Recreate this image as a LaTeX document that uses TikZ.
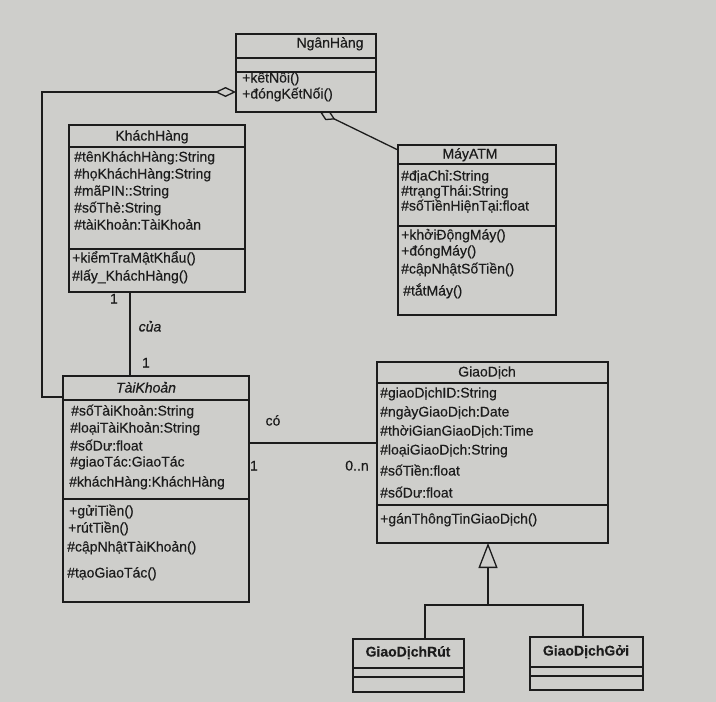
\documentclass[tikz,border=0pt]{standalone}
\usepackage{fontspec}
\setmainfont{Liberation Sans}[FakeBold=0.4]
\usetikzlibrary{arrows.meta,calc}
\definecolor{paper}{RGB}{206,206,203}
\definecolor{ink}{RGB}{28,28,28}
\begin{document}
\begin{tikzpicture}[x=1pt,y=-1pt,
  box/.style={draw=ink, line width=1.3pt, anchor=north west, inner sep=0pt, outer sep=0pt},
  sepline/.style={draw=ink, line width=1.3pt},
  txt/.style={anchor=west, inner sep=0pt, text height=9.5pt, text depth=2.5pt, font=\fontsize{14}{15}\selectfont, text=ink},
  ttl/.style={anchor=center, inner sep=0pt, text height=9.5pt, text depth=2.5pt, font=\fontsize{14}{15}\selectfont, text=ink},
  conn/.style={draw=ink, line width=1.3pt},
  agg/.style={conn, {Diamond[open, length=21pt, width=10pt, line width=1.3pt]}-},
  aggs/.style={conn, {Diamond[open, length=17pt, width=10pt, line width=1.3pt]}-},
  gen/.style={conn, -{Triangle[open, length=25pt, width=19pt, line width=1.3pt]}}]
\fill[paper] (0,0) rectangle (716,702);
\useasboundingbox (0,0) rectangle (716,702);

% ---------- NganHang ----------
\node[box, minimum width=140pt, minimum height=78pt] (nh) at (236,34) {};
\draw[sepline] ($(nh.north west)+(0,24)$) -- ($(nh.north east)+(0,24)$);
\draw[sepline] ($(nh.north west)+(0,38)$) -- ($(nh.north east)+(0,38)$);
\node[ttl] (nhT) at (330,44) {NgânHàng};
\node[txt] (nhM1) at (242,79) {+kếtNối()};
\node[txt] (nhM2) at (242,95) {+đóngKếtNối()};

% ---------- KhachHang ----------
\node[box, minimum width=176pt, minimum height=167pt] (kh) at (69,125) {};
\draw[sepline] ($(kh.north west)+(0,22)$) -- ($(kh.north east)+(0,22)$);
\draw[sepline] ($(kh.north west)+(0,124)$) -- ($(kh.north east)+(0,124)$);
\node[ttl] (khT) at (152,137) {KháchHàng};
\node[txt] (khA1) at (74,158) {\#tênKháchHàng:String};
\node[txt] (khA2) at (74,175) {\#họKháchHàng:String};
\node[txt] (khA3) at (74,192) {\#mãPIN::String};
\node[txt] (khA4) at (74,209) {\#sốThẻ:String};
\node[txt] (khA5) at (74,226) {\#tàiKhoản:TàiKhoản};
\node[txt] (khM1) at (72,259) {+kiểmTraMậtKhẩu()};
\node[txt] (khM2) at (72,277) {\#lấy\_KháchHàng()};

% ---------- MayATM ----------
\node[box, minimum width=158pt, minimum height=170pt] (atm) at (398,145) {};
\draw[sepline] ($(atm.north west)+(0,19)$) -- ($(atm.north east)+(0,19)$);
\draw[sepline] ($(atm.north west)+(0,81)$) -- ($(atm.north east)+(0,81)$);
\node[ttl] (atmT) at (470,155) {MáyATM};
\node[txt] (atmA1) at (401,177) {\#địaChỉ:String};
\node[txt] (atmA2) at (401,192) {\#trạngThái:String};
\node[txt] (atmA3) at (401,207) {\#sốTiềnHiệnTại:float};
\node[txt] (atmM1) at (401,236) {+khởiĐộngMáy()};
\node[txt] (atmM2) at (401,252) {+đóngMáy()};
\node[txt] (atmM3) at (401,270) {\#cậpNhậtSốTiền()};
\node[txt] (atmM4) at (403,292) {\#tắtMáy()};

% ---------- TaiKhoan ----------
\node[box, minimum width=186pt, minimum height=226pt] (tk) at (63,376) {};
\draw[sepline] ($(tk.north west)+(0,24)$) -- ($(tk.north east)+(0,24)$);
\draw[sepline] ($(tk.north west)+(0,123)$) -- ($(tk.north east)+(0,123)$);
\node[ttl, font=\fontsize{14}{15}\selectfont\itshape] (tkT) at (146,389) {TàiKhoản};
\node[txt] (tkA1) at (71,412) {\#sốTàiKhoản:String};
\node[txt] (tkA2) at (70,429) {\#loạiTàiKhoản:String};
\node[txt] (tkA3) at (70,447) {\#sốDư:float};
\node[txt] (tkA4) at (70,463) {\#giaoTác:GiaoTác};
\node[txt] (tkA5) at (69,483) {\#kháchHàng:KháchHàng};
\node[txt] (tkM1) at (69,512) {+gửiTiền()};
\node[txt] (tkM2) at (68,529) {+rútTiền()};
\node[txt] (tkM3) at (67,548) {\#cậpNhậtTàiKhoản()};
\node[txt] (tkM4) at (67,574) {\#tạoGiaoTác()};

% ---------- GiaoDich ----------
\node[box, minimum width=231pt, minimum height=181pt] (gd) at (377,362) {};
\draw[sepline] ($(gd.north west)+(0,21)$) -- ($(gd.north east)+(0,21)$);
\draw[sepline] ($(gd.north west)+(0,143)$) -- ($(gd.north east)+(0,143)$);
\node[ttl] (gdT) at (487,373) {GiaoDịch};
\node[txt] (gdA1) at (380,394) {\#giaoDịchID:String};
\node[txt] (gdA2) at (380,413) {\#ngàyGiaoDịch:Date};
\node[txt] (gdA3) at (380,432) {\#thờiGianGiaoDịch:Time};
\node[txt] (gdA4) at (380,451) {\#loạiGiaoDịch:String};
\node[txt] (gdA5) at (380,472) {\#sốTiền:float};
\node[txt] (gdA6) at (380,494) {\#sốDư:float};
\node[txt] (gdM1) at (380,520) {+gánThôngTinGiaoDịch()};

% ---------- GiaoDichRut / GiaoDichGoi ----------
\node[box, minimum width=111pt, minimum height=53pt] (gr) at (353,639) {};
\draw[sepline] ($(gr.north west)+(0,29)$) -- ($(gr.north east)+(0,29)$);
\draw[sepline] ($(gr.north west)+(0,38)$) -- ($(gr.north east)+(0,38)$);
\node[ttl, font=\fontsize{14}{15}\selectfont\bfseries] (grT) at (408,653) {GiaoDịchRút};
\node[box, minimum width=113pt, minimum height=53pt] (gg) at (530,637) {};
\draw[sepline] ($(gg.north west)+(0,30)$) -- ($(gg.north east)+(0,30)$);
\draw[sepline] ($(gg.north west)+(0,39)$) -- ($(gg.north east)+(0,39)$);
\node[ttl, font=\fontsize{14}{15}\selectfont\bfseries] (ggT) at (586,652) {GiaoDịchGởi};

% ---------- connectors ----------
\coordinate (bendA) at (42,92);
\coordinate (bendB) at (42,397);
\draw[agg] ($(nh.north west)+(0,58)$) -- (bendA) -- (bendB) -- ($(tk.north west)+(0,21)$);
\draw[aggs] ($(nh.south west)+(84,0)$) -- ($(atm.north west)+(0,5)$);
\draw[conn] ($(kh.south west)+(61,0)$) -- ($(tk.north west)+(67,0)$);
\draw[conn] ($(tk.north east)+(0,67)$) -- ($(gd.north west)+(0,81)$);
\coordinate (gj) at (488,605);
\draw[gen] (gj) -- ($(gd.south west)+(111,0)$);
\draw[conn] ($(gr.north west)+(72,0)$) |- (gj) -| ($(gg.north west)+(53,0)$);

% ---------- labels ----------
\node[ttl] (l1) at (114,300) {1};
\node[ttl, font=\fontsize{14}{15}\selectfont\itshape] (lcua) at (150,328) {của};
\node[ttl] (l2) at (146,364) {1};
\node[ttl] (lco) at (273,422) {có};
\node[ttl] (l3) at (254,467) {1};
\node[ttl] (l4) at (357,467) {0..n};
\end{tikzpicture}
\end{document}
